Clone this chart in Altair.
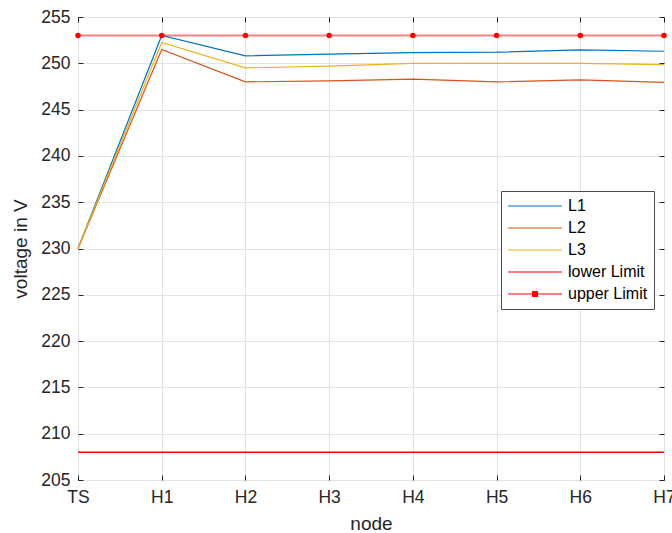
import altair as alt
import pandas as pd

# Node labels along the feeder
nodes = ["TS", "H1", "H2", "H3", "H4", "H5", "H6", "H7"]

# Phase voltages in V at each node
l1 = [230.0, 253.0, 250.8, 251.0, 251.15, 251.2, 251.45, 251.3]
l2 = [230.0, 251.5, 248.0, 248.1, 248.3, 248.0, 248.2, 247.95]
l3 = [230.0, 252.25, 249.5, 249.7, 250.0, 250.0, 250.0, 249.85]

# Voltage band limits
lower_limit = [208.0] * len(nodes)
upper_limit = [253.0] * len(nodes)

series_names = ["L1", "L2", "L3", "lower Limit", "upper Limit"]
series_colors = ["#0072BD", "#D95319", "#EDB120", "#FF0000", "#FF0000"]
y_ticks = list(range(205, 256, 5))

phases = pd.DataFrame(
    [{"node": n, "voltage": v, "series": s}
     for s, vals in (("L1", l1), ("L2", l2), ("L3", l3))
     for n, v in zip(nodes, vals)]
)
limits = pd.DataFrame(
    [{"node": n, "voltage": v, "series": s}
     for s, vals in (("lower Limit", lower_limit), ("upper Limit", upper_limit))
     for n, v in zip(nodes, vals)]
)
upper_pts = pd.DataFrame({"node": nodes, "voltage": upper_limit})

FONT = "Liberation Sans"
TXT = "#262626"
x_scale = alt.Scale(type="point", domain=nodes, padding=0)
y_scale = alt.Scale(domain=[205, 255], nice=False, zero=False)

# legend glyph: plain stroke, plus a marker square for the upper limit entry
dot_path = "M-1,0H1M-0.09,-0.09H0.09V0.09H-0.09Z"
is_upper = "datum.value === 'upper Limit'"

color = alt.Color(
    "series:N",
    scale=alt.Scale(domain=series_names, range=series_colors),
    legend=alt.Legend(
        title=None,
        orient="none",
        legendX=423,
        legendY=174,
        symbolType=alt.ExprRef(expr=f"{is_upper} ? '{dot_path}' : 'stroke'"),
        symbolFillColor=alt.ExprRef(expr=f"{is_upper} ? '#FF0000' : 'transparent'"),
        symbolSize=2916,
        symbolStrokeWidth=1.2,
        clipHeight=18,
        rowPadding=4,
        labelOffset=5,
        labelFont=FONT,
        labelFontSize=16,
        labelColor="#000000",
        padding=6,
        strokeColor="#4d4d4d",
        fillColor="#ffffff",
    ),
)

main_x_axis = alt.Axis(
    title="node", orient="bottom", domain=False, ticks=False, grid=True,
    gridColor="#E3E3E3", labelFont=FONT, labelFontSize=17.5, labelColor=TXT,
    labelPadding=8, labelAngle=0, titleFont=FONT, titleFontSize=19,
    titleFontWeight="normal", titleColor=TXT, titlePadding=9,
)
main_y_axis = alt.Axis(
    title="voltage in V", orient="left", values=y_ticks, domain=False,
    ticks=False, grid=True, gridColor="#E3E3E3", labelFont=FONT,
    labelFontSize=17.5, labelColor=TXT, labelPadding=8, titleFont=FONT,
    titleFontSize=19, titleFontWeight="normal", titleColor=TXT, titlePadding=10,
)


def tick_axis(orient, values=None):
    kw = dict(
        title=None, orient=orient, labels=False, domain=False, grid=False,
        ticks=True, tickSize=5, tickColor=TXT, tickWidth=1, offset=-5,
    )
    if values is not None:
        kw["values"] = values
    return alt.Axis(**kw)


phase_lines = alt.Chart(phases).mark_line(strokeWidth=1.2).encode(
    x=alt.X("node:N", sort=nodes, scale=x_scale, axis=main_x_axis),
    y=alt.Y("voltage:Q", scale=y_scale, axis=main_y_axis),
    color=color,
)

limit_lines = alt.Chart(limits).mark_line().encode(
    x=alt.X("node:N", sort=nodes, scale=x_scale, axis=tick_axis("bottom")),
    y=alt.Y("voltage:Q", scale=y_scale, axis=tick_axis("left", y_ticks)),
    color=color,
    strokeOpacity=alt.StrokeOpacity(
        "series:N",
        scale=alt.Scale(domain=["lower Limit", "upper Limit"], range=[1.0, 0.5]),
        legend=None,
    ),
    strokeWidth=alt.StrokeWidth(
        "series:N",
        scale=alt.Scale(domain=["lower Limit", "upper Limit"], range=[1.5, 2.2]),
        legend=None,
    ),
)

upper_dots = alt.Chart(upper_pts).mark_point(
    filled=True, shape="circle", size=30, color="#FF0000", opacity=1
).encode(
    x=alt.X("node:N", sort=nodes, scale=x_scale, axis=tick_axis("top")),
    y=alt.Y("voltage:Q", scale=y_scale, axis=tick_axis("right", y_ticks)),
)

chart = (
    alt.layer(phase_lines, limit_lines, upper_dots)
    .resolve_axis(x="independent", y="independent")
    .properties(
        width=586,
        height=463,
        autosize=alt.AutoSizeParams(type="none"),
        padding={"left": 78, "top": 17, "right": 8, "bottom": 53},
        background="#ffffff",
    )
    .configure_view(stroke="#4d4d4d", strokeWidth=1)
)

chart.save("out.html", embed_options={"renderer": "svg", "actions": False})
